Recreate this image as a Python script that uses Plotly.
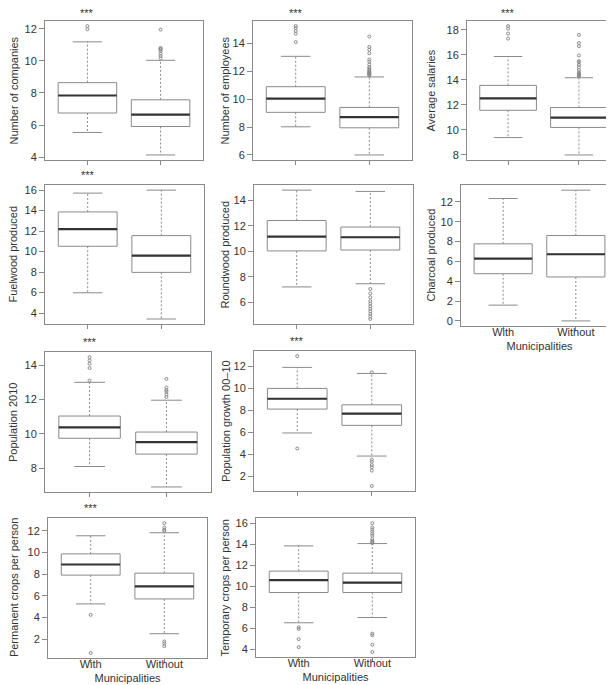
import plotly.graph_objects as go

W, H = 614, 685

groups = ["With", "Without"]
titles = ["Number of companies", "Number of employees", "Average salaries",
          "Fuelwood produced", "Roundwood produced", "Charcoal produced",
          "Population 2010", "Population growth 00\u201310",
          "Permanent crops per person", "Temporary crops per person"]
signif = ["***", "***", "***", "***", "", "", "***", "***", "***", ""]

lower_with  = [5.54, 8.02, 9.39, 5.98, 7.21, 1.59, 8.11, 5.92, 5.25, 6.53]
q1_with     = [6.75, 9.06, 11.57, 10.52, 10.03, 4.76, 9.75, 8.09, 7.91, 9.41]
median_with = [7.84, 10.05, 12.52, 12.19, 11.15, 6.29, 10.38, 9.03, 8.89, 10.59]
q3_with     = [8.64, 10.90, 13.56, 13.87, 12.41, 7.77, 11.04, 9.97, 9.87, 11.44]
upper_with  = [11.18, 13.08, 15.87, 15.71, 14.79, 12.34, 13.00, 11.88, 11.54, 13.84]

lower_without  = [4.14, 6.00, 8.00, 3.42, 7.46, 0.00, 6.92, 3.82, 2.50, 7.03]
q1_without     = [5.91, 7.95, 10.20, 7.97, 10.10, 4.43, 8.83, 6.61, 5.71, 9.41]
median_without = [6.65, 8.71, 10.98, 9.60, 11.10, 6.72, 9.52, 7.67, 6.87, 10.34]
q3_without     = [7.57, 9.41, 11.79, 11.56, 11.90, 8.61, 10.11, 8.48, 8.09, 11.25]
upper_without  = [10.03, 11.60, 14.17, 16.00, 14.69, 13.18, 11.96, 11.33, 11.82, 14.06]

outliers_with = [
    [11.96, 12.16],
    [14.1, 14.7, 14.9, 15.1, 15.25],
    [17.3, 17.7, 18.1, 18.3],
    [],
    [],
    [],
    [13.1, 13.83, 14.08, 14.27, 14.46],
    [12.9, 4.51],
    [4.24, 0.72],
    [6.1, 5.94, 4.97, 4.22],
]
outliers_without = [
    [10.15, 10.3, 10.45, 10.6, 10.7, 10.75, 10.8, 11.94],
    [11.7, 11.75, 11.8, 11.85, 11.9, 11.95, 12.0, 12.1, 12.2, 12.3, 12.5, 12.7,
     12.85, 13.3, 13.55, 13.75, 14.5],
    [14.3, 14.35, 14.4, 14.45, 14.5, 14.6, 14.8, 15.0, 15.2, 15.4, 15.5, 15.95,
     16.7, 16.95, 17.6],
    [],
    [7.05, 6.7, 6.4, 6.1, 5.9, 5.7, 5.5, 5.3, 5.1, 4.9, 4.7],
    [],
    [12.15, 12.3, 12.45, 12.55, 12.7, 13.2],
    [11.43, 3.5, 3.3, 3.0, 2.8, 2.5, 1.1],
    [12.0, 12.1, 12.3, 12.7, 1.78, 1.6, 1.35],
    [14.1, 14.2, 14.3, 14.5, 14.8, 15.0, 15.2, 15.4, 15.6, 16.0, 5.5, 5.35, 4.44, 3.75],
]

# panel rectangles in pixels: (left, right, top, bottom)
panel_px = [
    (37, 195, 12, 152), (245, 404, 12, 152), (459, 612, 12, 152),
    (37, 196, 177, 317), (246, 405, 177, 317), (453, 610, 177, 319),
    (37, 203, 345, 486), (246, 407, 344, 485),
    (40, 199, 512, 653), (248, 407, 512, 652),
]
# distance (px) from the left axis line to the centre of each y title
ytitle_gap = [31, 28, 36, 32, 29, 30, 32, 28, 34, 31]
bottom_panels = {5, 8, 9}

BOX_LINE = "#8a8a8a"
MED_LINE = "#333333"
TXT = "#333333"
FONT = "Liberation Sans, Arial, sans-serif"

fig = go.Figure()
xpos = [1, 2]

for i in range(len(titles)):
    xa = "x" if i == 0 else f"x{i+1}"
    ya = "y" if i == 0 else f"y{i+1}"
    lows = [lower_with[i], lower_without[i]]
    q1s = [q1_with[i], q1_without[i]]
    meds = [median_with[i], median_without[i]]
    q3s = [q3_with[i], q3_without[i]]
    ups = [upper_with[i], upper_without[i]]
    outs = [outliers_with[i], outliers_without[i]]

    # whiskers (dashed)
    wx, wy = [], []
    for k in range(2):
        wx += [xpos[k], xpos[k], None, xpos[k], xpos[k], None]
        wy += [q3s[k], ups[k], None, q1s[k], lows[k], None]
    fig.add_trace(go.Scatter(x=wx, y=wy, mode="lines", xaxis=xa, yaxis=ya,
                             line=dict(color=BOX_LINE, width=1, dash="2px,2px"),
                             hoverinfo="skip", showlegend=False))
    # caps
    cx, cy = [], []
    for k in range(2):
        cx += [xpos[k] - 0.2, xpos[k] + 0.2, None, xpos[k] - 0.2, xpos[k] + 0.2, None]
        cy += [ups[k], ups[k], None, lows[k], lows[k], None]
    fig.add_trace(go.Scatter(x=cx, y=cy, mode="lines", xaxis=xa, yaxis=ya,
                             line=dict(color=BOX_LINE, width=1),
                             hoverinfo="skip", showlegend=False))
    # boxes
    fig.add_trace(go.Box(x=xpos, q1=q1s, median=meds, q3=q3s,
                         lowerfence=q1s, upperfence=q3s, width=0.8,
                         whiskerwidth=0, fillcolor="white",
                         line=dict(color=BOX_LINE, width=1),
                         xaxis=xa, yaxis=ya, showlegend=False, boxpoints=False))
    # medians
    mx, my = [], []
    for k in range(2):
        mx += [xpos[k] - 0.4, xpos[k] + 0.4, None]
        my += [meds[k], meds[k], None]
    fig.add_trace(go.Scatter(x=mx, y=my, mode="lines", xaxis=xa, yaxis=ya,
                             line=dict(color=MED_LINE, width=2.2),
                             hoverinfo="skip", showlegend=False))
    # outliers
    ox, oy = [], []
    for k in range(2):
        ox += [xpos[k]] * len(outs[k])
        oy += outs[k]
    if oy:
        fig.add_trace(go.Scatter(x=ox, y=oy, mode="markers", xaxis=xa, yaxis=ya,
                                 marker=dict(symbol="circle-open", size=3,
                                             color="#8a8a8a", line=dict(width=1)),
                                 hoverinfo="skip", showlegend=False))

    # axis ranges (R style 4% extension)
    allv = lows + ups + outs[0] + outs[1]
    lo, hi = min(allv), max(allv)
    pad = 0.04 * (hi - lo)

    l, r, t, b = panel_px[i]
    is_bottom = i in bottom_panels
    xkey = "xaxis" if i == 0 else f"xaxis{i+1}"
    ykey = "yaxis" if i == 0 else f"yaxis{i+1}"
    fig.layout[xkey] = dict(
        domain=[l / W, r / W], anchor=ya, range=[0.42, 2.58],
        tickvals=xpos, ticktext=groups, showticklabels=is_bottom,
        ticks="outside", ticklen=4, tickcolor=BOX_LINE,
        ticklabelstandoff=-8,
        showline=True, mirror=True, linecolor=BOX_LINE, linewidth=1,
        showgrid=False, zeroline=False,
        tickfont=dict(size=11, color=TXT, family=FONT),
        title=dict(text="Municipalities" if is_bottom else "",
                   font=dict(size=11, color=TXT, family=FONT), standoff=4),
    )
    fig.layout[ykey] = dict(
        domain=[1 - b / H, 1 - t / H], anchor=xa, range=[lo - pad, hi + pad],
        dtick=2, ticks="outside", ticklen=5, tickcolor=BOX_LINE,
        showline=True, mirror=True, linecolor=BOX_LINE, linewidth=1,
        showgrid=False, zeroline=False,
        tickfont=dict(size=11, color=TXT, family=FONT),
    )
    # y-axis title as rotated text
    fig.add_annotation(x=(l - ytitle_gap[i]) / W, y=1 - (t + b) / 2 / H,
                       xref="paper", yref="paper", text=titles[i],
                       textangle=-90, showarrow=False,
                       xanchor="center", yanchor="middle",
                       font=dict(size=11, color=TXT, family=FONT))
    if signif[i]:
        fig.add_annotation(x=1, y=1, xref=xa, yref=f"{ya} domain",
                           text=signif[i], showarrow=False, yanchor="bottom",
                           yshift=(1 if t < 50 else 3), borderpad=0,
                           font=dict(size=11, color=TXT, family=FONT))

fig.update_layout(
    width=W, height=H, margin=dict(l=0, r=0, t=0, b=0),
    paper_bgcolor="white", plot_bgcolor="white",
    font=dict(family=FONT, color=TXT),
    showlegend=False,
)

fig.write_html("out.html")
